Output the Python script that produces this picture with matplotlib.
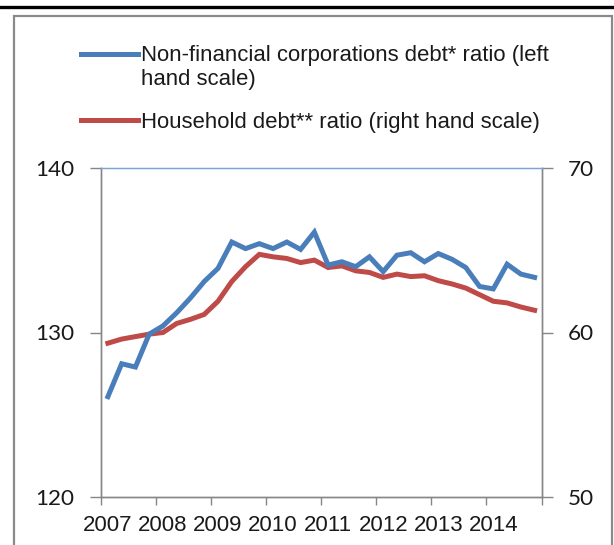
import numpy as np
import matplotlib
matplotlib.use('Agg')
import matplotlib.pyplot as plt
from matplotlib.lines import Line2D
from matplotlib.patches import Rectangle

# quarterly data, 2007Q1 .. 2014Q4
years = ['2007', '2008', '2009', '2010', '2011', '2012', '2013', '2014']
nfc_debt = [126.1, 128.1, 127.9, 129.9, 130.4, 131.2, 132.1, 133.1,
            133.9, 135.5, 135.1, 135.4, 135.1, 135.5, 135.05, 136.1,
            134.1, 134.3, 134.0, 134.6, 133.7, 134.7, 134.85, 134.3,
            134.8, 134.45, 133.95, 132.8, 132.65, 134.15, 133.55, 133.35]
household_debt = [59.35, 59.6, 59.75, 59.9, 60.0, 60.55, 60.8, 61.1,
                  61.9, 63.1, 64.0, 64.75, 64.6, 64.5, 64.25, 64.4,
                  63.95, 64.05, 63.75, 63.65, 63.35, 63.55, 63.4, 63.45,
                  63.15, 62.95, 62.7, 62.3, 61.9, 61.8, 61.55, 61.35]
legend_labels = ['Non-financial corporations debt* ratio (left\nhand scale)',
                 'Household debt** ratio (right hand scale)']

blue = '#4a7ebb'
red = '#be4b48'
grey = '#868686'

W, H = 614, 545
fig = plt.figure(figsize=(W / 100, H / 100), dpi=100)

def fx(px):
    return px / W

def fy(py):
    return 1 - py / H

ax = fig.add_axes([fx(101), fy(497), fx(541.5) - fx(101), fy(168) - fy(497)])
ax2 = ax.twinx()

x = np.arange(len(nfc_debt))
ax.plot(x, nfc_debt, color=blue, lw=3.6, solid_joinstyle='miter', zorder=3)
ax2.plot(x, household_debt, color=red, lw=3.6, solid_joinstyle='miter', zorder=2)
ax.set_zorder(ax2.get_zorder() + 1)
ax.patch.set_visible(False)

ax.set_xlim(-0.5, len(x) - 0.5)
ax.set_ylim(120, 140)
ax2.set_ylim(50, 70)
ax.set_yticks([120, 130, 140])
ax2.set_yticks([50, 60, 70])

# year labels sit in the middle of the first quarter, tick marks on boundaries
ax.set_xticks(np.arange(0, len(x), 4))
ax.set_xticklabels(years, family=['Liberation Sans', 'DejaVu Sans'],
                   fontsize=16, color='#1a1a1a')
ax.set_xticks(np.arange(-0.5, len(x), 4), minor=True)
ax.tick_params(axis='x', which='major', length=0, pad=13)
ax.tick_params(axis='x', which='minor', length=6, width=1, color=grey, direction='out')
ax.tick_params(axis='y', length=8, width=1, color=grey, direction='out', pad=11)
ax2.tick_params(axis='y', length=8, width=1, color=grey, direction='out', pad=11)
for lab in ax.get_yticklabels() + ax2.get_yticklabels():
    lab.set_family(['Lato', 'DejaVu Sans'])
    lab.set_fontsize(16.2)
    lab.set_color('#1a1a1a')

for a in (ax, ax2):
    for side in ('left', 'right', 'bottom'):
        a.spines[side].set_color(grey)
        a.spines[side].set_linewidth(1)
    a.spines['top'].set_color('#7aa3d6')
    a.spines['top'].set_linewidth(0.9)

# legend drawn by hand so the handle lines up with the first text line
leg_font = ['Liberation Sans', 'DejaVu Sans']
fig.add_artist(Line2D([fx(81), fx(138)], [fy(54), fy(54)], color=blue, lw=3.6,
                      transform=fig.transFigure))
fig.add_artist(Line2D([fx(81), fx(138)], [fy(120), fy(120)], color=red, lw=3.6,
                      transform=fig.transFigure))
first, second = legend_labels[0].split('\n')
fig.text(fx(141), fy(61.5), first, family=leg_font, fontsize=15.9,
         color='#1a1a1a', va='baseline')
fig.text(fx(141), fy(85), second, family=leg_font, fontsize=15.9,
         color='#1a1a1a', va='baseline')
fig.text(fx(141), fy(128.3), legend_labels[1], family=leg_font, fontsize=15.9,
         color='#1a1a1a', va='baseline')

# outer frame and the rule above it
fig.add_artist(Rectangle((fx(14), fy(560)), fx(612) - fx(14), fy(16) - fy(560),
                         fill=False, edgecolor='#8a8a8a', lw=1.6,
                         transform=fig.transFigure, clip_on=False))
fig.add_artist(Line2D([0, 1], [fy(7), fy(7)], color='black', lw=2.4,
                      transform=fig.transFigure))

fig.savefig('out.png', dpi=100)
